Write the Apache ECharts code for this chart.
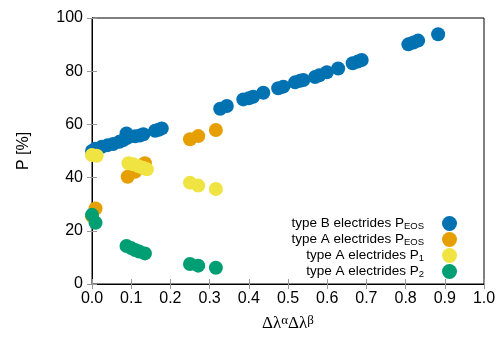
<!DOCTYPE html>
<html>
<head>
<meta charset="utf-8">
<script src="https://cdn.jsdelivr.net/npm/echarts@6/dist/echarts.min.js"></script>
<style>html,body{margin:0;padding:0;background:#fff}#c{width:501px;height:337px}</style>
</head>
<body>
<div id="c"></div>
<script>
// Data: [x, P%]
var typeB_PEOS = [[0.0,50.0],[0.008,50.8],[0.025,51.6],[0.04,52.2],[0.054,52.6],[0.07,53.5],[0.08,54.1],[0.088,56.6],[0.09,55.0],[0.11,55.5],[0.122,55.8],[0.131,56.3],[0.161,57.6],[0.17,58.0],[0.178,58.5],[0.327,65.9],[0.344,66.9],[0.386,69.4],[0.40,69.8],[0.411,70.4],[0.437,71.9],[0.475,73.6],[0.488,74.2],[0.518,75.8],[0.531,76.4],[0.539,76.7],[0.569,77.8],[0.58,78.5],[0.599,79.6],[0.628,81.0],[0.665,83.0],[0.678,83.6],[0.688,84.2],[0.807,90.1],[0.82,90.8],[0.832,91.5],[0.883,93.9]];
var typeA_PEOS = [[0.0,25.5],[0.009,28.4],[0.091,40.3],[0.110,42.2],[0.135,45.4],[0.25,54.4],[0.271,55.6],[0.316,57.9]];
var typeA_P1 = [[0.0,48.5],[0.012,48.2],[0.093,45.4],[0.105,45.0],[0.118,44.3],[0.13,43.7],[0.14,43.1],[0.25,38.1],[0.271,37.0],[0.316,35.7]];
var typeA_P2 = [[0.0,26.0],[0.009,23.0],[0.088,14.3],[0.10,13.5],[0.11,12.8],[0.12,12.2],[0.135,11.5],[0.25,7.5],[0.271,6.9],[0.316,6.1]];
var seriesNames = ['typeB_PEOS','typeA_PEOS','typeA_P1','typeA_P2'];
var legendMain = ['type B electrides P','type A electrides P','type A electrides P','type A electrides P'];
var legendSub = ['EOS','EOS','1','2'];
var colors = ['#0072b2','#e69f00','#f0e442','#009e73'];
var xTicks = {min:0, max:1, step:0.1};
var yTicks = {min:0, max:100, step:20};

var chart = echarts.init(document.getElementById('c'), null, {renderer:'canvas'});
var FONT = '"Liberation Sans", Arial, sans-serif';
var dataSets = [typeB_PEOS, typeA_PEOS, typeA_P1, typeA_P2];

var legendTops = [213, 229, 245, 261];
var legends = seriesNames.map(function(n, i){
  return {
    data:[n], orient:'vertical', right:44, top:legendTops[i], align:'right',
    icon:'circle', itemWidth:15, itemHeight:15, padding:0, selectedMode:false,
    formatter:function(){ return '{m|' + legendMain[i] + '}{s|' + legendSub[i] + '}'; },
    textStyle:{ fontFamily:FONT, color:'#000',
      rich:{ m:{fontSize:13.5, fontFamily:FONT, color:'#000', lineHeight:15, verticalAlign:'top'},
             s:{fontSize:9.5, fontFamily:FONT, color:'#000', lineHeight:10, padding:[8,13,0,0], verticalAlign:'bottom'} } }
  };
});

var axisCommon = {
  axisLine:{show:true, lineStyle:{color:'#000', width:1}},
  axisTick:{show:true, inside:true, length:5, lineStyle:{color:'#999'}},
  splitLine:{show:false}
};

chart.setOption({
  animation:false,
  backgroundColor:'#fff',
  grid:{left:92, right:17, top:18, bottom:53, show:true, borderColor:'#000', borderWidth:1, containLabel:false, outerBoundsMode:'none'},
  legend: legends,
  xAxis:[
    Object.assign({type:'value', min:xTicks.min, max:xTicks.max, interval:xTicks.step, position:'bottom',
      axisLabel:{fontFamily:FONT, fontSize:16, color:'#000', margin:7, formatter:function(v){return v.toFixed(1);}},
      name:'{d|Δλ}{u|α}{d|Δλ}{u|β}', nameLocation:'middle', nameGap:30,
      nameTextStyle:{rich:{d:{fontFamily:'"Liberation Serif", serif', fontSize:17, color:'#000', lineHeight:18, verticalAlign:'bottom'},
                          u:{fontFamily:'"Liberation Serif", serif', fontSize:13, color:'#000', lineHeight:13, padding:[0,0,8,0], verticalAlign:'top'}}}
    }, axisCommon),
    Object.assign({type:'value', min:xTicks.min, max:xTicks.max, interval:xTicks.step, position:'top',
      axisLabel:{show:false}}, axisCommon)
  ],
  yAxis:[
    Object.assign({type:'value', min:yTicks.min, max:yTicks.max, interval:yTicks.step, position:'left',
      axisLabel:{fontFamily:FONT, fontSize:16, color:'#000', margin:9},
      name:'P [%]', nameLocation:'middle', nameGap:60, nameRotate:90,
      nameTextStyle:{fontFamily:FONT, fontSize:16, color:'#000'}
    }, axisCommon),
    Object.assign({type:'value', min:yTicks.min, max:yTicks.max, interval:yTicks.step, position:'right',
      axisLabel:{show:false}}, axisCommon)
  ],
  series: dataSets.map(function(d, i){
    return {name:seriesNames[i], type:'scatter', data:d, symbol:'circle', symbolSize:14,
      itemStyle:{color:colors[i], opacity:1}, emphasis:{disabled:true}, clip:false};
  })
});
</script>
</body>
</html>
